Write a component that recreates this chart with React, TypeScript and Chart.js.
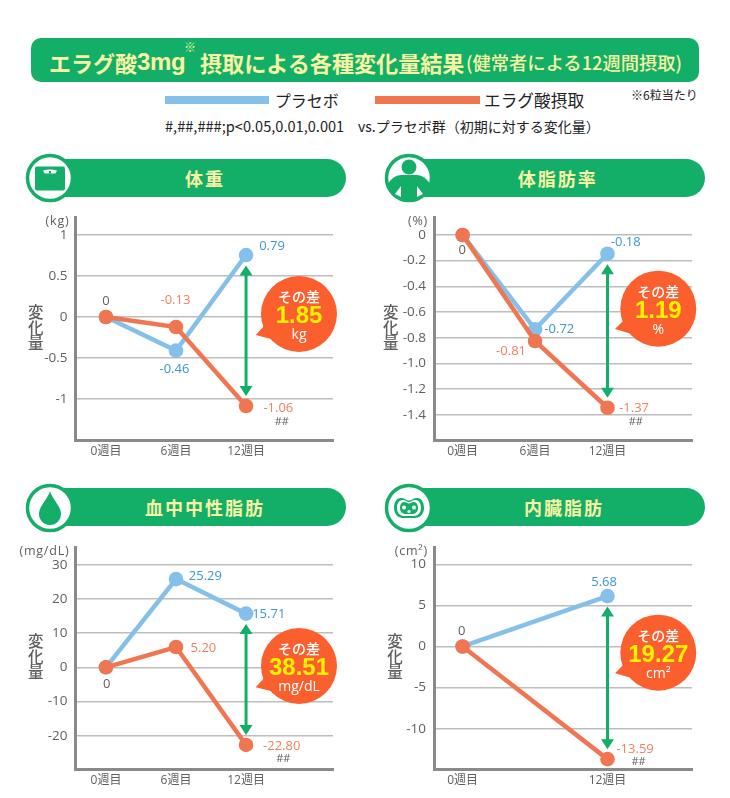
import React, { useEffect, useRef } from "react";
import { Chart, registerables } from "chart.js";

Chart.register(...registerables);

// ---------- data ----------
const weeks3 = [0, 6, 12];
const weeks2 = [0, 12];
const xLabels3 = ["0週目", "6週目", "12週目"];
const xLabels2 = ["0週目", "12週目"];

const weightTicks = [1, 0.5, 0, -0.5, -1];
const weightTickLabels = ["1", "0.5", "0", "-0.5", "-1"];
const weightPlacebo = [0, -0.41, 0.756];
const weightEllagic = [0, -0.122, -1.085];
const weightPlaceboLabels = ["", "-0.46", "0.79"];
const weightEllagicLabels = ["0", "-0.13", "-1.06"];

const fatTicks = [0, -0.2, -0.4, -0.6, -0.8, -1.0, -1.2, -1.4];
const fatTickLabels = ["0", "-0.2", "-0.4", "-0.6", "-0.8", "-1.0", "-1.2", "-1.4"];
const fatPlacebo = [0, -0.735, -0.146];
const fatEllagic = [0, -0.826, -1.346];
const fatPlaceboLabels = ["", "-0.72", "-0.18"];
const fatEllagicLabels = ["0", "-0.81", "-1.37"];

const tgTicks = [30, 20, 10, 0, -10, -20];
const tgTickLabels = ["30", "20", "10", "0", "-10", "-20"];
const tgPlacebo = [0, 25.8, 15.7];
const tgEllagic = [0, 5.94, -22.7];
const tgPlaceboLabels = ["", "25.29", "15.71"];
const tgEllagicLabels = ["0", "5.20", "-22.80"];

const visceralTicks = [10, 5, 0, -5, -10];
const visceralTickLabels = ["10", "5", "0", "-5", "-10"];
const visceralPlacebo = [0, 6.13];
const visceralEllagic = [0, -13.7];
const visceralPlaceboLabels = ["", "5.68"];
const visceralEllagicLabels = ["0", "-13.59"];

const seriesNames = ["プラセボ", "エラグ酸摂取"];

// ---------- style ----------
const FONT = '"Open Sans","Noto Sans CJK JP",sans-serif';
const JP = '"Noto Sans CJK JP",sans-serif';
const ARIAL = '"Liberation Sans",sans-serif';
const GREEN = "#13ae67";
const CREAM = "#f8f3a2";
const BLUE = "#85c0ea";
const ORANGE = "#ef7650";
const BLUE_TEXT = "#3d94d8";
const ORANGE_TEXT = "#f0805e";
const GRAY_TEXT = "#5f5f5f";

type Note = { s: "p" | "e"; i: number; dx: number; dy: number };
type Panel = {
  title: string; titleX: number; top: number; headLeft: number; headRight: number; iconX: number;
  icon: string;
  canvasLeft: number; canvasTop: number; canvasW: number; canvasH: number;
  left: number; right: number; chartTop: number; chartBottom: number;
  xMin: number; xMax: number; yMin: number; yMax: number;
  weeks: number[]; xLabels: string[]; ticks: number[]; tickLabels: string[];
  placebo: number[]; ellagic: number[]; pLabels: string[]; eLabels: string[];
  pNotes: Note[]; eNotes: Note[]; sig: [number, number];
  unit: string; sideX: number; sideY: number;
  bx: number; by: number; tailX: number; tailY: number;
  diff: string; diffUnit: string;
};

const n = (s: "p" | "e", i: number, dx: number, dy: number): Note => ({ s, i, dx, dy });

const panels: Panel[] = [
  {
    title: "体重", titleX: 205, top: 159, headLeft: 30, headRight: 346, iconX: 50, icon: "scale",
    canvasLeft: 0, canvasTop: 205, canvasW: 360, canvasH: 262,
    left: 75.5, right: 333, chartTop: 217, chartBottom: 440,
    xMin: -2.61, xMax: 19.45, yMin: -1.5, yMax: 1.22,
    weeks: weeks3, xLabels: xLabels3, ticks: weightTicks, tickLabels: weightTickLabels,
    placebo: weightPlacebo, ellagic: weightEllagic, pLabels: weightPlaceboLabels, eLabels: weightEllagicLabels,
    pNotes: [n("p", 1, -1.6, 18.3), n("p", 2, 26, -8.3)],
    eNotes: [n("e", 0, 0, -15.7), n("e", 1, -0.6, -27), n("e", 2, 32.3, 2.3)],
    sig: [35.7, 15.7],
    unit: "(kg)", sideX: 35.7, sideY: 328,
    bx: 299, by: 314, tailX: 255.7, tailY: 335, diff: "1.85", diffUnit: "kg",
  },
  {
    title: "体脂肪率", titleX: 557.7, top: 159, headLeft: 390, headRight: 705, iconX: 409.3, icon: "person",
    canvasLeft: 360, canvasTop: 205, canvasW: 365, canvasH: 262,
    left: 434, right: 692, chartTop: 217, chartBottom: 440,
    xMin: -2.37, xMax: 19.0, yMin: -1.597, yMax: 0.14,
    weeks: weeks3, xLabels: xLabels3, ticks: fatTicks, tickLabels: fatTickLabels,
    placebo: fatPlacebo, ellagic: fatEllagic, pLabels: fatPlaceboLabels, eLabels: fatEllagicLabels,
    pNotes: [n("p", 1, 24.3, -0.3), n("p", 2, 18.3, -11)],
    eNotes: [n("e", 0, -0.3, 15), n("e", 1, -24, 10.7), n("e", 2, 26.6, 0.6)],
    sig: [28.3, 14],
    unit: "(%)", sideX: 390.7, sideY: 328,
    bx: 658.3, by: 308.7, tailX: 615, tailY: 329, diff: "1.19", diffUnit: "%",
  },
  {
    title: "血中中性脂肪", titleX: 205, top: 488.3, headLeft: 30, headRight: 346, iconX: 50, icon: "drop",
    canvasLeft: 0, canvasTop: 535, canvasW: 360, canvasH: 262,
    left: 75.5, right: 333, chartTop: 547, chartBottom: 769,
    xMin: -2.61, xMax: 19.45, yMin: -29.74, yMax: 35.18,
    weeks: weeks3, xLabels: xLabels3, ticks: tgTicks, tickLabels: tgTickLabels,
    placebo: tgPlacebo, ellagic: tgEllagic, pLabels: tgPlaceboLabels, eLabels: tgEllagicLabels,
    pNotes: [n("p", 1, 29.4, -2.6), n("p", 2, 22.7, 0.7)],
    eNotes: [n("e", 0, 0.7, 16.7), n("e", 1, 27.4, 1), n("e", 2, 35.7, 1.4)],
    sig: [37.3, 13.7],
    unit: "(mg/dL)", sideX: 35.7, sideY: 656.7,
    bx: 299, by: 666, tailX: 255.7, tailY: 687.3, diff: "38.51", diffUnit: "mg/dL",
  },
  {
    title: "内臓脂肪", titleX: 564, top: 488.3, headLeft: 390, headRight: 705, iconX: 409.3, icon: "organ",
    canvasLeft: 360, canvasTop: 535, canvasW: 365, canvasH: 262,
    left: 434, right: 692, chartTop: 547, chartBottom: 769,
    xMin: -2.37, xMax: 19.0, yMin: -14.9, yMax: 12.1,
    weeks: weeks2, xLabels: xLabels2, ticks: visceralTicks, tickLabels: visceralTickLabels,
    placebo: visceralPlacebo, ellagic: visceralEllagic, pLabels: visceralPlaceboLabels, eLabels: visceralEllagicLabels,
    pNotes: [n("p", 1, -3.4, -14)],
    eNotes: [n("e", 0, -1, -15), n("e", 1, 27.6, -10)],
    sig: [31, 3],
    unit: "(cm²)", sideX: 395, sideY: 656.7,
    bx: 658.3, by: 652.7, tailX: 615, tailY: 673.3, diff: "19.27", diffUnit: "cm²",
  },
];

function PanelChart({ p }: { p: Panel }) {
  const ref = useRef<HTMLCanvasElement>(null);
  useEffect(() => {
    const ox = p.canvasLeft, oy = p.canvasTop;
    const overlay = {
      id: "overlay",
      afterDatasetsDraw(chart: any) {
        const c = chart.ctx as CanvasRenderingContext2D;
        const xs = chart.scales.x, ys = chart.scales.y;
        const txt = (t: string, x: number, y: number, color: string, font: string, align: CanvasTextAlign = "center") => {
          c.fillStyle = color; c.font = font; c.textAlign = align; c.textBaseline = "middle";
          c.fillText(t, x, y);
        };
        const labelFont = `13px ${FONT}`;
        const place = (note: Note) => {
          const series = note.s === "p" ? p.placebo : p.ellagic;
          const labels = note.s === "p" ? p.pLabels : p.eLabels;
          const col = labels[note.i] === "0" ? GRAY_TEXT : note.s === "p" ? BLUE_TEXT : ORANGE_TEXT;
          txt(labels[note.i], xs.getPixelForValue(p.weeks[note.i]) + note.dx, ys.getPixelForValue(series[note.i]) + note.dy, col, labelFont);
        };
        p.pNotes.forEach(place);
        p.eNotes.forEach(place);
        const last = p.weeks.length - 1;
        const ax = xs.getPixelForValue(p.weeks[last]);
        const yTop = ys.getPixelForValue(p.placebo[last]) + 10.5;
        const yBot = ys.getPixelForValue(p.ellagic[last]) - 10;
        txt("##", ax + p.sig[0], ys.getPixelForValue(p.ellagic[last]) + p.sig[1], GRAY_TEXT, `11px ${FONT}`);
        // arrow
        c.strokeStyle = GREEN; c.lineWidth = 3; c.beginPath();
        c.moveTo(ax, yTop + 8); c.lineTo(ax, yBot - 8); c.stroke();
        c.fillStyle = GREEN;
        c.beginPath(); c.moveTo(ax, yTop); c.lineTo(ax - 6.5, yTop + 10); c.lineTo(ax + 6.5, yTop + 10); c.fill();
        c.beginPath(); c.moveTo(ax, yBot); c.lineTo(ax - 6.5, yBot - 10); c.lineTo(ax + 6.5, yBot - 10); c.fill();
        // bubble
        const bx = p.bx - ox, by = p.by - oy;
        c.fillStyle = "#fb5f2e";
        c.beginPath(); c.arc(bx, by, 38, 0, Math.PI * 2); c.fill();
        c.beginPath();
        c.moveTo(p.tailX - ox, p.tailY - oy);
        c.lineTo(bx - 33, by + 10);
        c.lineTo(bx - 24, by + 26);
        c.fill();
        txt("その差", bx, by - 17.3, "#ffffff", `500 14px ${JP}`);
        txt(p.diff, bx, by + 2.5, "#fff200", `700 24px ${ARIAL}`);
        txt(p.diffUnit, bx, by + 21.5, "#ffffff", `14px ${FONT}`);
        // unit and side title
        (c as any).letterSpacing = "0.8px";
        txt(p.unit, p.left - ox - 6, p.chartTop - oy + 4.5, GRAY_TEXT, `12.5px ${FONT}`, "right");
        (c as any).letterSpacing = "0px";
        ["変", "化", "量"].forEach((ch, k) => {
          txt(ch, p.sideX - ox, p.sideY - oy + (k - 1) * 15.5, GRAY_TEXT, `500 15.5px ${JP}`);
        });
      },
    };
    const toPts = (ys: number[]) => ys.map((y, i) => ({ x: p.weeks[i], y }));
    const chart = new Chart(ref.current as HTMLCanvasElement, {
      type: "scatter",
      data: {
        datasets: [
          { label: seriesNames[0], data: toPts(p.placebo), showLine: true, borderColor: BLUE, backgroundColor: BLUE, borderWidth: 4.5, pointRadius: 7.3, pointHoverRadius: 7.3, pointBorderWidth: 0, order: 2 },
          { label: seriesNames[1], data: toPts(p.ellagic), showLine: true, borderColor: ORANGE, backgroundColor: ORANGE, borderWidth: 4.5, pointRadius: 7.3, pointHoverRadius: 7.3, pointBorderWidth: 0, order: 1 },
        ],
      } as any,
      plugins: [overlay],
      options: {
        animation: false,
        responsive: false,
        clip: false,
        layout: { padding: { left: 0, top: p.chartTop - oy, right: p.canvasW - (p.right - ox), bottom: 0 } },
        plugins: { legend: { display: false }, tooltip: { enabled: false } },
        scales: {
          x: {
            type: "linear", min: p.xMin, max: p.xMax,
            afterFit(s: any) { s.height = p.canvasH - (p.chartBottom - oy); s.paddingLeft = 0; s.paddingRight = 0; },
            afterBuildTicks(s: any) { s.ticks = p.weeks.map((value) => ({ value })); },
            grid: { display: false, drawTicks: false },
            border: { color: "#8a8a8a", width: 3 },
            ticks: {
              autoSkip: false, maxRotation: 0, padding: 4, color: GRAY_TEXT,
              font: { family: FONT, size: 12 },
              callback: (_v: any, i: number) => p.xLabels[i],
            },
          },
          y: {
            type: "linear", min: p.yMin, max: p.yMax,
            afterFit(s: any) { s.width = p.left - ox; s.paddingTop = 0; s.paddingBottom = 0; },
            afterBuildTicks(s: any) { s.ticks = p.ticks.map((value) => ({ value })); },
            grid: { color: "#bdbdbd", lineWidth: 1.5, drawTicks: false },
            border: { color: "#8a8a8a", width: 3 },
            ticks: {
              autoSkip: false, padding: 8, color: GRAY_TEXT,
              font: { family: FONT, size: 13.5 },
              callback: (_v: any, i: number) => p.tickLabels[i],
            },
          },
        },
      } as any,
    });
    return () => chart.destroy();
  }, [p]);
  return (
    <canvas
      ref={ref}
      width={p.canvasW}
      height={p.canvasH}
      style={{ position: "absolute", left: p.canvasLeft, top: p.canvasTop, width: p.canvasW, height: p.canvasH }}
    />
  );
}

function Icon({ kind }: { kind: string }) {
  const bean = "M-8 -10 C-4 -10 -3 -7.5 0 -7.5 C3 -7.5 4 -10 8 -10 C13 -10 15 -5 15 0 C15 6 11 10 6 10 L-6 10 C-11 10 -15 6 -15 0 C-15 -5 -13 -10 -8 -10 Z";
  return (
    <svg width={50} height={50} viewBox="-25 -25 50 50" style={{ display: "block" }}>
      <defs>
        <clipPath id={`clip-${kind}`}><circle r={22} /></clipPath>
      </defs>
      <circle r={22.5} fill="#fff" stroke={GREEN} strokeWidth={3.5} />
      {kind === "scale" && (
        <g>
          <rect x={-15} y={-11.5} width={30} height={24} rx={2} fill={GREEN} />
          <path d="M-7 -7.5 Q0 -9.5 7 -7.5 L5.5 -4.5 L-5.5 -4.5 Z" fill="#fff" />
          <rect x={-1} y={-7} width={2} height={2.5} fill={GREEN} />
        </g>
      )}
      {kind === "person" && (
        <g clipPath={`url(#clip-${kind})`}>
          <circle cx={0} cy={-11} r={7.5} fill={GREEN} />
          <path d="M-24 12 Q-18 -3 -8 -3 L8 -3 Q18 -3 24 12 L24 24 L-24 24 Z" fill={GREEN} />
          <path d="M-14 16 L-8 8 L-8 19 Z M14 16 L8 8 L8 19 Z" fill="#fff" />
        </g>
      )}
      {kind === "drop" && (
        <path d="M0 -17 C2 -9 11 -2 11 6 A11 11 0 0 1 -11 6 C-11 -2 -2 -9 0 -17 Z" fill={GREEN} />
      )}
      {kind === "organ" && (
        <g>
          <path d={bean} fill={GREEN} />
          <path d={bean} fill="#fff" transform="scale(0.8)" />
          <path d={bean} fill={GREEN} transform="scale(0.6)" />
          <circle cx={-5} cy={-0.5} r={2} fill="#fff" />
          <circle cx={5} cy={-0.5} r={2} fill="#fff" />
          <circle cx={0} cy={3.5} r={1.6} fill="#fff" />
        </g>
      )}
    </svg>
  );
}

const abs = (left: number, top: number, extra: React.CSSProperties = {}): React.CSSProperties => ({
  position: "absolute", left, top, whiteSpace: "nowrap", ...extra,
});

const mid: React.CSSProperties = { transform: "translateY(-50%)" };

export default function App() {
  return (
    <div style={{ position: "absolute", left: 0, top: 0, width: 730, height: 798, background: "#fff", overflow: "hidden", fontFamily: JP }}>
      {/* banner */}
      <div style={abs(31, 37.5, { width: 668, height: 44.5, background: GREEN, borderRadius: 10 })} />
      <div style={abs(49, 62, { ...mid, color: CREAM, fontWeight: 700, fontSize: 22, lineHeight: "30px" })}>エラグ酸</div>
      <div style={abs(137, 61.5, { ...mid, color: CREAM, fontWeight: 700, fontSize: 24, lineHeight: "30px", fontFamily: ARIAL, letterSpacing: -0.3 })}>3mg</div>
      <div style={abs(184, 40, { color: CREAM, fontSize: 12, lineHeight: "14px" })}>※</div>
      <div style={abs(200, 62, { ...mid, color: CREAM, fontWeight: 700, fontSize: 22.1, lineHeight: "30px" })}>摂取による各種変化量結果</div>
      <div style={abs(466, 62, { ...mid, color: CREAM, fontWeight: 500, fontSize: 18.3, lineHeight: "30px" })}>(健常者による12週間摂取)</div>
      {/* legend */}
      <div style={abs(165, 96, { width: 104, height: 7.5, background: BLUE })} />
      <div style={abs(274.7, 100, { ...mid, fontSize: 16, color: "#222", lineHeight: "22px" })}>{seriesNames[0]}</div>
      <div style={abs(375, 96, { width: 104.5, height: 7.5, background: ORANGE })} />
      <div style={abs(484, 100, { ...mid, fontSize: 16.7, color: "#222", lineHeight: "22px" })}>{seriesNames[1]}</div>
      <div style={abs(631, 95, { ...mid, fontSize: 12, color: "#222", lineHeight: "16px" })}>※6粒当たり</div>
      <div style={abs(165, 125.5, { ...mid, fontSize: 14.6, color: "#222", lineHeight: "18px" })}>#,##,###;p&lt;0.05,0.01,0.001</div>
      <div style={abs(358, 125.5, { ...mid, fontSize: 14, color: "#222", lineHeight: "18px" })}>vs.プラセボ群（初期に対する変化量）</div>
      {panels.map((p) => (
        <React.Fragment key={p.title}>
          <div style={abs(p.headLeft, p.top, { width: p.headRight - p.headLeft, height: 38, background: GREEN, borderRadius: 19 })} />
          <div style={abs(p.iconX - 25, p.top + 19.3 - 25)}><Icon kind={p.icon} /></div>
          <div style={abs(p.titleX, p.top + 19, { transform: "translate(-50%,-50%)", color: CREAM, fontWeight: 700, fontSize: 18, letterSpacing: 2, lineHeight: "24px" })}>{p.title}</div>
          <PanelChart p={p} />
        </React.Fragment>
      ))}
    </div>
  );
}
